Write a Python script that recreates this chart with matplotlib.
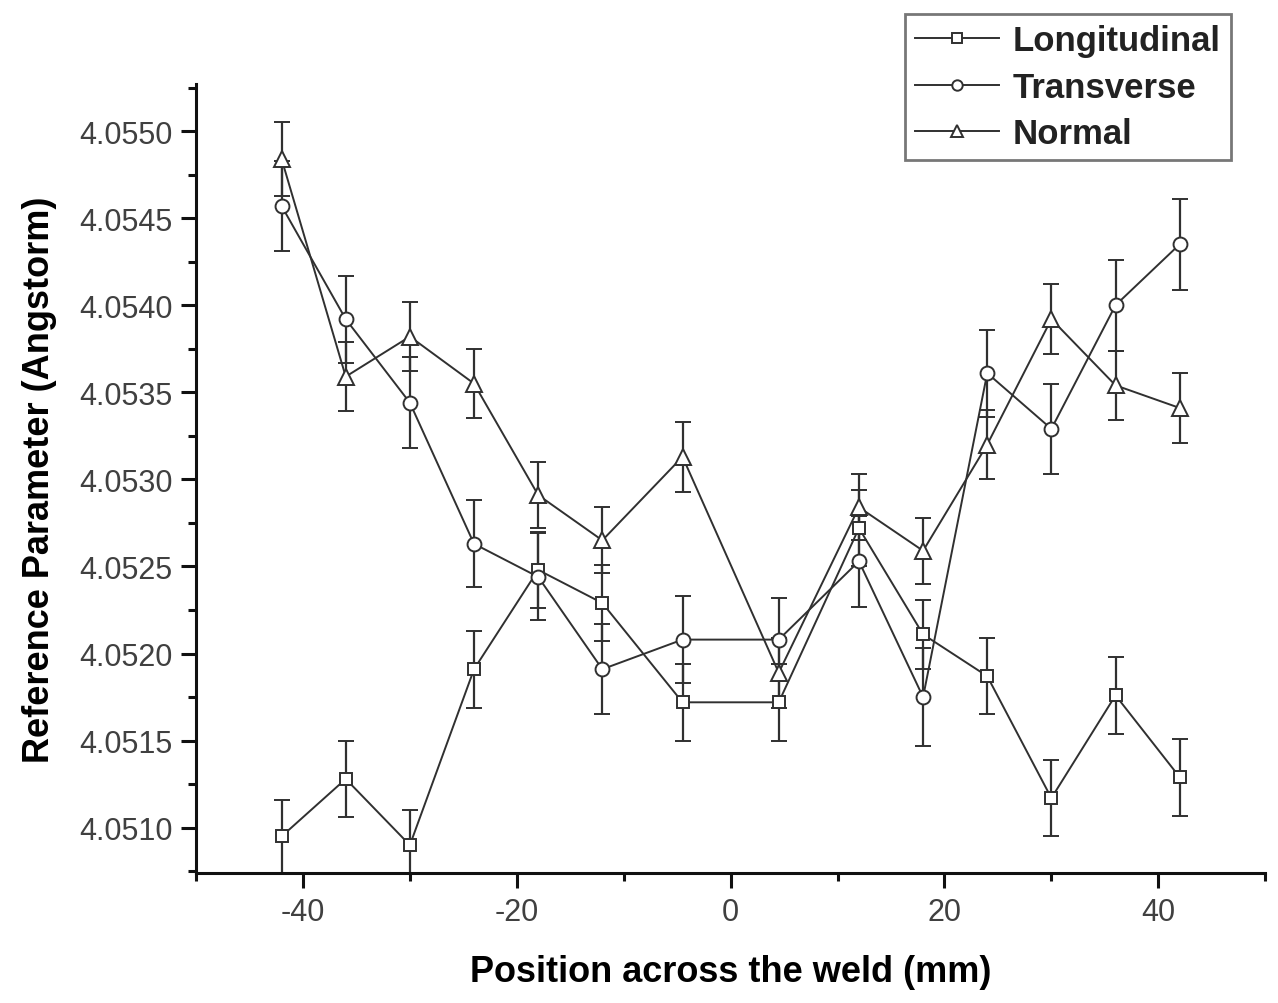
import matplotlib
matplotlib.use("Agg")
import matplotlib.pyplot as plt
from matplotlib.ticker import MultipleLocator, FormatStrFormatter

plt.rcParams['font.family'] = ['Liberation Sans', 'DejaVu Sans']
plt.rcParams['axes.unicode_minus'] = False

# position across the weld (mm)
pos = [-42, -36, -30, -24, -18, -12, -4.5, 4.5, 12, 18, 24, 30, 36, 42]

# lattice parameter values (Angstrom)
longitudinal = [4.05095, 4.05128, 4.05090, 4.05191, 4.05248, 4.05229, 4.05172,
                4.05172, 4.05272, 4.05211, 4.05187, 4.05117, 4.05176, 4.05129]
transverse = [4.05457, 4.05392, 4.05344, 4.05263, 4.05244, 4.05191, 4.05208,
              4.05208, 4.05253, 4.05175, 4.05361, 4.05329, 4.05400, 4.05435]
normal = [4.05484, 4.05359, 4.05382, 4.05355, 4.05291, 4.05265, 4.05313,
          4.05189, 4.05284, 4.05259, 4.05320, 4.05392, 4.05354, 4.05341]

# error bars
long_err = [0.00021, 0.00022, 0.00020, 0.00022, 0.00022, 0.00022, 0.00022,
            0.00022, 0.00022, 0.00020, 0.00022, 0.00022, 0.00022, 0.00022]
trans_err = [0.00026, 0.00025, 0.00026, 0.00025, 0.00025, 0.00026, 0.00025,
             0.00024, 0.00026, 0.00028, 0.00025, 0.00026, 0.00026, 0.00026]
norm_err = [0.00021, 0.00020, 0.00020, 0.00020, 0.00019, 0.00019, 0.00020,
            0.00020, 0.00019, 0.00019, 0.00020, 0.00020, 0.00020, 0.00020]

series = [("Longitudinal", longitudinal, long_err, "s", 9),
          ("Transverse", transverse, trans_err, "o", 10),
          ("Normal", normal, norm_err, "^", 11)]

fig = plt.figure(figsize=(12.78, 10.04), dpi=100)
ax = fig.add_axes([0.1534, 0.1295, 0.8366, 0.7858])

lc = "#303030"
handles = []
for name, vals, err, mk, ms in series:
    c = ax.errorbar(pos, vals, yerr=err, label=name, color=lc, lw=1.4,
                    marker=mk, markersize=ms, markerfacecolor="white",
                    markeredgecolor=lc, markeredgewidth=1.4,
                    elinewidth=1.6, capsize=6, capthick=1.6)
    handles.append(c.lines[0])

ax.set_xlim(-50, 50)
ax.set_ylim(4.05074, 4.05527)

ax.xaxis.set_major_locator(MultipleLocator(20))
ax.xaxis.set_minor_locator(MultipleLocator(10))
ax.yaxis.set_major_locator(MultipleLocator(0.0005))
ax.yaxis.set_minor_locator(MultipleLocator(0.00025))
ax.yaxis.set_major_formatter(FormatStrFormatter("%.4f"))

for s in ["top", "right"]:
    ax.spines[s].set_visible(False)
for s in ["left", "bottom"]:
    ax.spines[s].set_linewidth(2.2)
    ax.spines[s].set_color("#111111")

ax.tick_params(which="major", direction="out", length=11, width=2.2,
               labelsize=22, labelcolor="#404040", color="#111111", pad=6)
ax.tick_params(which="minor", direction="out", length=6, width=2.2,
               color="#111111")

ax.set_xlabel("Position across the weld (mm)", fontsize=26, fontweight="bold",
              labelpad=20)
ax.set_ylabel("Reference Parameter (Angstorm)", fontsize=26, fontweight="bold",
              labelpad=16)

leg = ax.legend(handles, [s[0] for s in series], loc="upper left",
                bbox_to_anchor=(0.708, 0.985),
                bbox_transform=fig.transFigure, borderaxespad=0,
                fontsize=25, frameon=True, fancybox=False, markerscale=0.75,
                handlelength=2.4, handletextpad=0.4, labelspacing=0.38,
                borderpad=0.3)
leg.get_frame().set_edgecolor("#555555")
leg.get_frame().set_linewidth(2)
for t in leg.get_texts():
    t.set_fontweight("bold")
    t.set_color("#222222")

fig.savefig("out.png", dpi=100)
